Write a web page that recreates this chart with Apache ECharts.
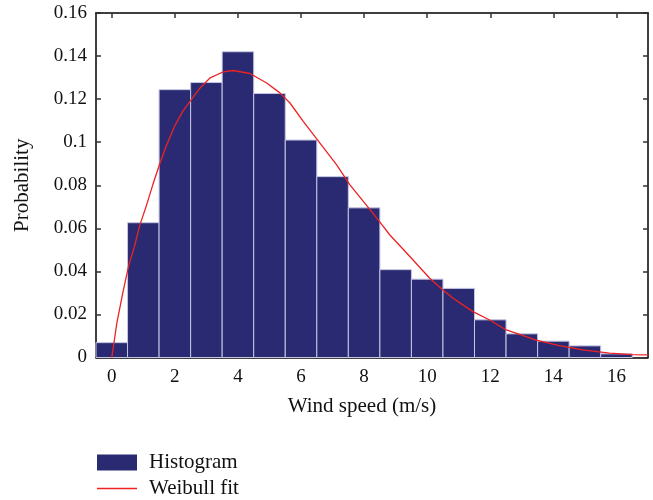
<!DOCTYPE html>
<html>
<head>
<meta charset="utf-8">
<script src="https://cdn.jsdelivr.net/npm/echarts@6/dist/echarts.min.js"></script>
<style>
  html, body { margin: 0; padding: 0; background: #fff; }
  #main { width: 653px; height: 500px; }
</style>
</head>
<body>
<div id="main"></div>
<script>
// histogram bins (centre of each 1 m/s bin) and their probabilities
var binCenters = [0, 1, 2, 3, 4, 5, 6, 7, 8, 9, 10, 11, 12, 13, 14, 15, 16];
var histValues = [0.0069, 0.0626, 0.1244, 0.1277, 0.142, 0.1226, 0.101, 0.084, 0.0695,
                  0.0408, 0.0364, 0.0321, 0.0175, 0.011, 0.0076, 0.0054, 0.0017];

// weibull fit curve
var fitX = [0, 0.16, 0.35, 0.53, 0.72, 0.88, 1.09, 1.30, 1.51, 1.72, 1.99, 2.25, 2.52, 2.80,
            3.12, 3.54, 3.85, 4.38, 4.91, 5.33, 5.65, 6.07, 6.60, 7.13, 7.55, 8.02, 8.44,
            8.81, 9.45, 10.08, 10.5, 10.82, 11.45, 11.98, 12.51, 13.46, 14.19, 14.93,
            15.78, 16.51, 17];
var fitY = [0, 0.016, 0.030, 0.0423, 0.0516, 0.061, 0.0702, 0.0802, 0.0895, 0.098, 0.1074,
            0.1143, 0.1198, 0.1252, 0.1299, 0.1327, 0.1333, 0.1319, 0.1275, 0.1229, 0.1182,
            0.1097, 0.0996, 0.0895, 0.0802, 0.0717, 0.064, 0.057, 0.0469, 0.0368, 0.0314,
            0.0275, 0.0213, 0.0174, 0.0128, 0.0081, 0.0055, 0.0035, 0.002, 0.0013, 0.0012];

var xTicks = [0, 2, 4, 6, 8, 10, 12, 14, 16];

var font = 'Liberation Serif';
var txt = '#111';

var histData = binCenters.map(function (b, i) { return [b, histValues[i]]; });
var fitData = fitX.map(function (x, i) { return [x, fitY[i]]; });

var chart = echarts.init(document.getElementById('main'));

var frameLine = { onZero: false, lineStyle: { color: '#000', width: 1.5 } };
var innerTick = { show: true, inside: true, length: 5, lineStyle: { color: '#333', width: 1.5 } };
var legendText = { fontFamily: font, fontSize: 21, color: txt, padding: [0, 0, 0, 7] };

var option = {
  animation: false,
  grid: { left: 96, right: 5, top: 13, bottom: 142.5, containLabel: false },
  // one legend per row, stacked like the original
  legend: [{
    left: 97,
    top: 452,
    padding: 0,
    itemWidth: 40,
    itemHeight: 16,
    textStyle: legendText,
    data: [{ name: 'Histogram', icon: 'rect' }]
  }, {
    left: 97,
    top: 478,
    padding: 0,
    itemWidth: 40,
    itemHeight: 16,
    textStyle: legendText,
    data: [{ name: 'Weibull fit', icon: 'path://M0,0H35V1.3H0Z' }]
  }],
  xAxis: [{
    type: 'value',
    position: 'bottom',
    min: -0.5,
    max: 17,
    name: 'Wind speed (m/s)',
    nameLocation: 'middle',
    nameGap: 38,
    nameTextStyle: { fontFamily: font, fontSize: 21, color: txt, padding: [0, 20, 0, 0] },
    axisLine: frameLine,
    axisTick: { show: false },
    axisLabel: { customValues: xTicks, fontFamily: font, fontSize: 19, color: txt, margin: 10 },
    splitLine: { show: false }
  }, {
    type: 'value',
    position: 'top',
    min: -0.5,
    max: 17,
    axisLine: frameLine,
    axisTick: { show: true, inside: true, length: 5, customValues: xTicks, lineStyle: { color: '#333', width: 1.5 } },
    axisLabel: { show: false },
    splitLine: { show: false }
  }],
  yAxis: [{
    type: 'value',
    position: 'left',
    min: 0,
    max: 0.16,
    interval: 0.02,
    name: 'Probability',
    nameLocation: 'middle',
    nameGap: 63,
    nameTextStyle: { fontFamily: font, fontSize: 21, color: txt },
    axisLine: { show: true, onZero: false, lineStyle: { color: '#000', width: 1.5 } },
    axisTick: innerTick,
    axisLabel: { fontFamily: font, fontSize: 19, color: txt, margin: 9 },
    splitLine: { show: false }
  }, {
    type: 'value',
    position: 'right',
    min: 0,
    max: 0.16,
    interval: 0.02,
    axisLine: { show: true, onZero: false, lineStyle: { color: '#000', width: 1.5 } },
    axisTick: innerTick,
    axisLabel: { show: false },
    splitLine: { show: false }
  }],
  series: [{
    name: 'Histogram',
    type: 'custom',
    xAxisIndex: 0,
    yAxisIndex: 0,
    itemStyle: { color: '#2a2a72' },
    encode: { x: 0, y: 1 },
    data: histData,
    renderItem: function (params, api) {
      var x = api.value(0), y = api.value(1);
      var p0 = api.coord([x - 0.5, y]);
      var p1 = api.coord([x + 0.5, 0]);
      return {
        type: 'rect',
        shape: { x: p0[0], y: p0[1], width: p1[0] - p0[0], height: p1[1] - p0[1] },
        style: { fill: '#2a2a72', stroke: '#c4c6e4', lineWidth: 1 }
      };
    },
    z: 1
  }, {
    name: 'Weibull fit',
    type: 'line',
    xAxisIndex: 0,
    yAxisIndex: 0,
    data: fitData,
    symbol: 'none',
    showSymbol: false,
    smooth: false,
    itemStyle: { color: '#ee2222' },
    lineStyle: { color: '#ee2222', width: 1.3 },
    z: 3
  }]
};

chart.setOption(option);
</script>
</body>
</html>
